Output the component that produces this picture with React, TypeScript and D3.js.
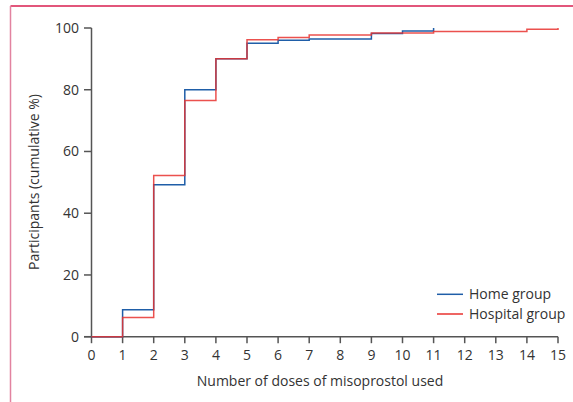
import React from "react";
import * as d3 from "d3";

const doses = [0, 1, 2, 3, 4, 5, 6, 7, 8, 9, 10, 11, 12, 13, 14, 15];
const yTicks = [0, 20, 40, 60, 80, 100];
// step levels: [x start, value]; last entry is the end point
const homeSteps: [number, number][] = [
  [0, 0], [1, 8.7], [2, 49.2], [3, 80], [4, 90], [5, 95.1], [6, 96.0], [7, 96.4],
  [9, 98.2], [10, 99.0], [11, 100],
];
const hospitalSteps: [number, number][] = [
  [0, 0], [1, 6.2], [2, 52.2], [3, 76.5], [4, 90], [5, 96.2], [6, 96.9], [7, 97.7],
  [9, 98.4], [11, 98.9], [14, 99.6], [15, 100],
];
const seriesNames = ["Home group", "Hospital group"];
const colors = ["#1f5ea8", "#e8322f"];

const W = 573, H = 402;
const FONT = "'Open Sans', 'DejaVu Sans', sans-serif";
const FS = 14;

export default function App() {
  const x = d3.scaleLinear().domain([0, 15]).range([91.5, 558]);
  const y = d3.scaleLinear().domain([0, 100]).range([336.7, 28]);
  const line = d3.line<[number, number]>().x(d => x(d[0])).y(d => y(d[1])).curve(d3.curveStepAfter);
  const axisColor = "#555";
  const textColor = "#333";
  return (
    <svg width={W} height={H} style={{ position: "absolute", left: 0, top: 0, background: "#fff" }}>
      {/* frame */}
      <line x1={10.5} x2={573} y1={6} y2={6} stroke="#d81e4f" strokeWidth={1.5} />
      <line x1={10.5} x2={10.5} y1={6} y2={402} stroke="#e283a0" strokeWidth={1.5} />
      {/* y axis */}
      <line x1={x(0)} x2={x(0)} y1={y(100)} y2={y(0)} stroke={axisColor} strokeWidth={1.5} />
      {yTicks.map(t => (
        <g key={"y" + t}>
          <line x1={x(0) - 7.5} x2={x(0)} y1={y(t)} y2={y(t)} stroke={axisColor} strokeWidth={1.5} />
          <text x={79} y={y(t)} dy="0.35em" textAnchor="end" fontFamily={FONT} fontSize={FS} fill={textColor}>{t}</text>
        </g>
      ))}
      {/* x axis */}
      <line x1={x(0) - 7.5} x2={x(15)} y1={y(0)} y2={y(0)} stroke={axisColor} strokeWidth={1.5} />
      {doses.map(t => (
        <g key={"x" + t}>
          <line x1={x(t)} x2={x(t)} y1={y(0)} y2={y(0) + 6.5} stroke={axisColor} strokeWidth={1.5} />
          <text x={x(t)} y={360} textAnchor="middle" fontFamily={FONT} fontSize={FS} fill={textColor}>{t}</text>
        </g>
      ))}
      <text x={320} y={386} textAnchor="middle" fontFamily={FONT} fontSize={FS} fill={textColor}>Number of doses of misoprostol used</text>
      <text transform={`translate(39,182) rotate(-90)`} textAnchor="middle" fontFamily={FONT} fontSize={FS} fill={textColor}>Participants (cumulative %)</text>
      {/* series */}
      <path d={line(homeSteps) || ""} fill="none" stroke={colors[0]} strokeWidth={1.5} />
      <path d={line(hospitalSteps) || ""} fill="none" stroke={colors[1]} strokeWidth={1.5} strokeOpacity={0.85} />
      {/* legend */}
      {seriesNames.map((n, i) => (
        <g key={n}>
          <line x1={437} x2={463} y1={294.3 + i * 19.7} y2={294.3 + i * 19.7} stroke={colors[i]} strokeWidth={1.5} />
          <text x={469} y={294.3 + i * 19.7} dy="0.35em" fontFamily={FONT} fontSize={FS} fill={textColor}>{n}</text>
        </g>
      ))}
    </svg>
  );
}
